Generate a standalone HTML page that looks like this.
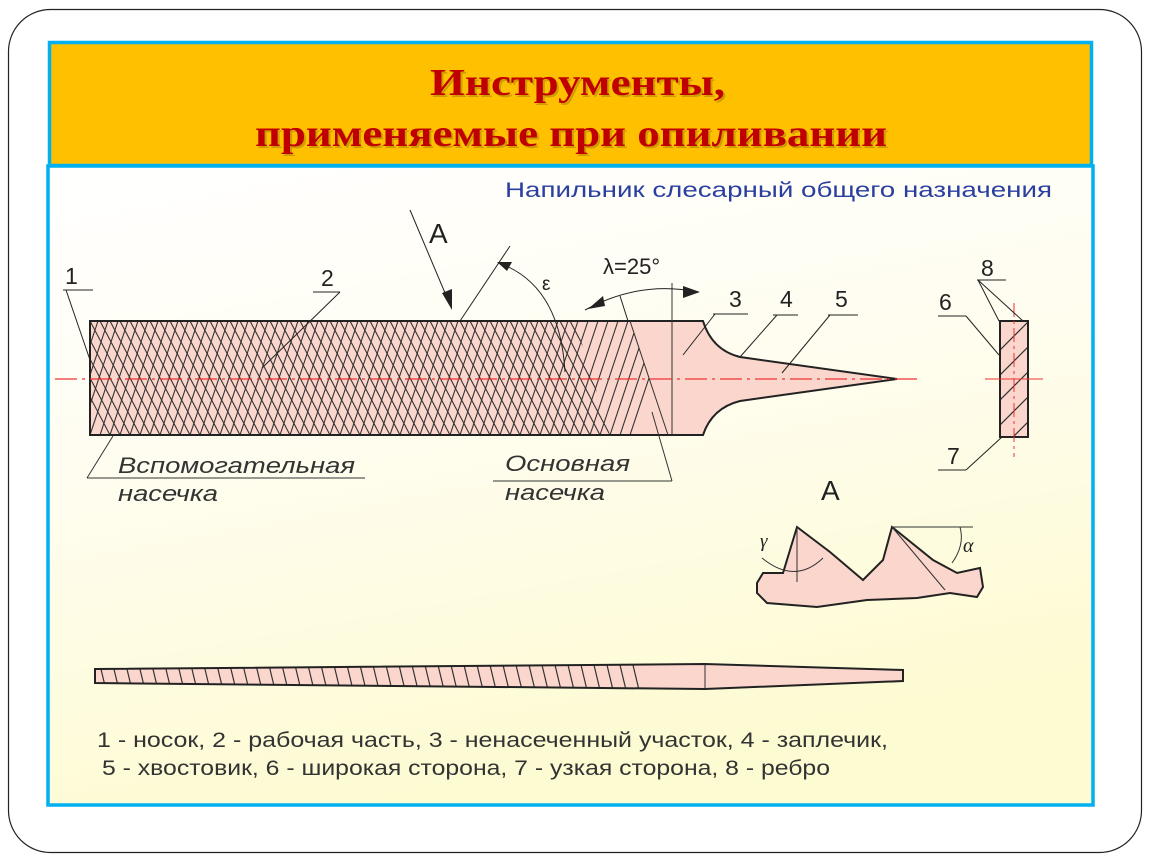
<!DOCTYPE html>
<html><head><meta charset="utf-8"><style>
body{margin:0;width:1150px;height:864px;background:#fff;overflow:hidden;}
svg{position:absolute;left:0;top:0;}
</style></head><body>
<svg width="1150" height="864" viewBox="0 0 1150 864" font-family="Liberation Sans, sans-serif">
<defs>
<linearGradient id="bg" x1="0" y1="0" x2="0.3" y2="1">
<stop offset="0" stop-color="#ffffff"/><stop offset="0.45" stop-color="#fffdf0"/><stop offset="1" stop-color="#fdfbd2"/>
</linearGradient>
<clipPath id="cr"><polygon points="90,321 630,321 668,435 90,435"/></clipPath>
<clipPath id="cx"><polygon points="90,321 575,321 610,435 90,435"/></clipPath>
<clipPath id="cs"><rect x="1000" y="321" width="28" height="116"/></clipPath>
<clipPath id="cb"><polygon points="95,669 705,664 705,689 95,683"/></clipPath>
</defs>
<rect x="8.5" y="9.5" width="1133" height="843" rx="42" fill="#fff" stroke="#222" stroke-width="1.2"/>
<rect x="48" y="166" width="1045" height="639" fill="url(#bg)" stroke="#00b0f0" stroke-width="3.5"/>
<rect x="49.5" y="42.5" width="1042" height="123" fill="#ffc000" stroke="#00b0f0" stroke-width="3.5"/>
<g font-family="Liberation Serif, serif" font-weight="bold" font-size="38">
<text x="432" y="97" fill="#8a6a00" opacity=".4" textLength="295" lengthAdjust="spacingAndGlyphs">Инструменты,</text>
<text x="430" y="95" fill="#c00000" textLength="295" lengthAdjust="spacingAndGlyphs">Инструменты,</text>
<text x="257" y="148" fill="#8a6a00" opacity=".4" textLength="632" lengthAdjust="spacingAndGlyphs">применяемые при опиливании</text>
<text x="255" y="146" fill="#c00000" textLength="632" lengthAdjust="spacingAndGlyphs">применяемые при опиливании</text>
</g>
<text x="505" y="197" font-size="21" fill="#2a3fa0" textLength="547" lengthAdjust="spacingAndGlyphs">Напильник слесарный общего назначения</text>

<!-- main file -->
<path d="M90,321 H703 Q712,350 740,357 L897,379 L740,401 Q712,408 703,435 H90 Z" fill="#fbd6cc"/>
<g clip-path="url(#cr)" stroke="#333" stroke-width="1.1">
<path d="M60,435 l38,-114 M70,435 l38,-114 M80,435 l38,-114 M90,435 l38,-114 M100,435 l38,-114 M110,435 l38,-114 M120,435 l38,-114 M130,435 l38,-114 M140,435 l38,-114 M150,435 l38,-114 M160,435 l38,-114 M170,435 l38,-114 M180,435 l38,-114 M190,435 l38,-114 M200,435 l38,-114 M210,435 l38,-114 M220,435 l38,-114 M230,435 l38,-114 M240,435 l38,-114 M250,435 l38,-114 M260,435 l38,-114 M270,435 l38,-114 M280,435 l38,-114 M290,435 l38,-114 M300,435 l38,-114 M310,435 l38,-114 M320,435 l38,-114 M330,435 l38,-114 M340,435 l38,-114 M350,435 l38,-114 M360,435 l38,-114 M370,435 l38,-114 M380,435 l38,-114 M390,435 l38,-114 M400,435 l38,-114 M410,435 l38,-114 M420,435 l38,-114 M430,435 l38,-114 M440,435 l38,-114 M450,435 l38,-114 M460,435 l38,-114 M470,435 l38,-114 M480,435 l38,-114 M490,435 l38,-114 M500,435 l38,-114 M510,435 l38,-114 M520,435 l38,-114 M530,435 l38,-114 M540,435 l38,-114 M550,435 l38,-114 M560,435 l38,-114 M570,435 l38,-114 M580,435 l38,-114 M590,435 l38,-114 M600,435 l38,-114 M610,435 l38,-114 M620,435 l38,-114 M630,435 l38,-114"/>
</g>
<g clip-path="url(#cx)" stroke="#333" stroke-width="1.1">
<path d="M50,321 l60,114 M60,321 l60,114 M70,321 l60,114 M80,321 l60,114 M90,321 l60,114 M100,321 l60,114 M110,321 l60,114 M120,321 l60,114 M130,321 l60,114 M140,321 l60,114 M150,321 l60,114 M160,321 l60,114 M170,321 l60,114 M180,321 l60,114 M190,321 l60,114 M200,321 l60,114 M210,321 l60,114 M220,321 l60,114 M230,321 l60,114 M240,321 l60,114 M250,321 l60,114 M260,321 l60,114 M270,321 l60,114 M280,321 l60,114 M290,321 l60,114 M300,321 l60,114 M310,321 l60,114 M320,321 l60,114 M330,321 l60,114 M340,321 l60,114 M350,321 l60,114 M360,321 l60,114 M370,321 l60,114 M380,321 l60,114 M390,321 l60,114 M400,321 l60,114 M410,321 l60,114 M420,321 l60,114 M430,321 l60,114 M440,321 l60,114 M450,321 l60,114 M460,321 l60,114 M470,321 l60,114 M480,321 l60,114 M490,321 l60,114 M500,321 l60,114 M510,321 l60,114 M520,321 l60,114 M530,321 l60,114 M540,321 l60,114 M550,321 l60,114 M560,321 l60,114 M570,321 l60,114"/>
</g>
<path d="M90,321 H703 Q712,350 740,357 L897,379 L740,401 Q712,408 703,435 H90 Z" fill="none" stroke="#222" stroke-width="2"/>
<line x1="630" y1="321" x2="668" y2="435" stroke="#333"/>
<line x1="672" y1="283" x2="672" y2="435" stroke="#333"/>
<line x1="55" y1="379" x2="920" y2="379" stroke="#e33" stroke-width="1.2" stroke-dasharray="22,5,3,5"/>

<g font-size="23" fill="#222" stroke="#222" stroke-width="1">
<text x="65" y="284" stroke="none">1</text>
<line x1="63" y1="290" x2="93" y2="290"/><line x1="66" y1="290" x2="90" y2="360"/>
<text x="321" y="286" stroke="none">2</text>
<line x1="313" y1="292" x2="340" y2="292"/><line x1="340" y1="292" x2="262" y2="368"/>
<text x="429" y="243" stroke="none" font-size="28">A</text>
<line x1="410" y1="210" x2="448" y2="300"/>
<polygon points="452,310 442,293 452,289" stroke="none"/>
<line x1="460" y1="321" x2="510" y2="246"/>
<path d="M499,263 Q560,285 565,372" fill="none"/>
<polygon points="497,262 512,262 507,271" stroke="none"/>
<text x="542" y="290" stroke="none" font-size="19">ε</text>
<text x="603" y="274" stroke="none" font-size="22">λ=25°</text>
<path d="M585,310 Q640,280 698,292" fill="none"/>
<polygon points="588,309 603,296 605,306" stroke="none"/>
<polygon points="700,292 683,286 683,298" stroke="none"/>
<line x1="628" y1="321" x2="620" y2="296"/>
<text x="729" y="307" stroke="none">3</text>
<line x1="713" y1="314" x2="748" y2="314"/><line x1="715" y1="314" x2="683" y2="355"/>
<text x="780" y="307" stroke="none">4</text>
<line x1="773" y1="315" x2="798" y2="315"/><line x1="777" y1="315" x2="740" y2="357"/>
<text x="835" y="307" stroke="none">5</text>
<line x1="828" y1="315" x2="858" y2="315"/><line x1="830" y1="315" x2="782" y2="373"/>
</g>
<g font-size="22" font-style="italic" fill="#333" stroke="#333">
<text x="118" y="473" stroke="none" textLength="237" lengthAdjust="spacingAndGlyphs">Вспомогательная</text>
<text x="118" y="501" stroke="none" textLength="100" lengthAdjust="spacingAndGlyphs">насечка</text>
<line x1="87" y1="478" x2="365" y2="478"/><line x1="87" y1="478" x2="113" y2="436"/>
<text x="505" y="471" stroke="none" textLength="125" lengthAdjust="spacingAndGlyphs">Основная</text>
<text x="505" y="500" stroke="none" textLength="100" lengthAdjust="spacingAndGlyphs">насечка</text>
<line x1="493" y1="481" x2="672" y2="481"/><line x1="672" y1="481" x2="652" y2="412"/>
</g>

<!-- cross-section -->
<rect x="1000" y="321" width="28" height="116" fill="#fbd6cc"/>
<g clip-path="url(#cs)" stroke="#333" stroke-width="1.2">
<path d="M990,360 l50,-50 M990,385 l50,-50 M990,410 l50,-50 M990,435 l50,-50 M990,460 l50,-50"/>
</g>
<rect x="1000" y="321" width="28" height="116" fill="none" stroke="#222" stroke-width="2"/>
<line x1="1014" y1="303" x2="1014" y2="457" stroke="#e33" stroke-dasharray="14,4,3,4"/>
<line x1="985" y1="379" x2="1043" y2="379" stroke="#e33"/>
<g font-size="23" fill="#222" stroke="#222">
<text x="981" y="276" stroke="none">8</text>
<line x1="977" y1="280" x2="1006" y2="280"/>
<line x1="978" y1="280" x2="999" y2="321"/><line x1="978" y1="280" x2="1023" y2="321"/>
<text x="939" y="310" stroke="none">6</text>
<line x1="938" y1="316" x2="966" y2="316"/><line x1="966" y1="316" x2="999" y2="355"/>
<text x="947" y="464" stroke="none">7</text>
<line x1="938" y1="470" x2="966" y2="470"/><line x1="966" y1="470" x2="1002" y2="437"/>
<text x="821" y="500" stroke="none" font-size="28">A</text>
</g>
<!-- teeth -->
<path d="M757,583 L763,573 L783,573 L797,527 L830,552 L863,580 L883,560 L892,527 L933,560 L957,573 L980,568 L983,587 L977,597 L950,593 L917,598 L867,600 L817,607 L767,603 L757,593 Z" fill="#fbd6cc" stroke="#222" stroke-width="2"/>
<g stroke="#333" fill="none">
<line x1="797" y1="527" x2="797" y2="582"/>
<path d="M762,558 Q795,585 823,558"/>
<line x1="892" y1="527" x2="973" y2="527"/>
<line x1="892" y1="527" x2="945" y2="590"/>
<path d="M960,527 Q965,545 952,563"/>
</g>
<text x="760" y="547" font-size="19" font-family="Liberation Serif, serif" font-style="italic" fill="#222">γ</text>
<text x="963" y="552" font-size="20" font-family="Liberation Serif, serif" font-style="italic" fill="#222">α</text>

<!-- bottom file -->
<path d="M95,669 L705,664 L903,670 L903,681 L705,689 L95,683 Z" fill="#fbd6cc"/>
<g clip-path="url(#cb)" stroke="#333" stroke-width="1.2">
<path d="M100,665 l6,25 M113,665 l6,25 M126,665 l6,25 M139,665 l6,25 M152,665 l6,25 M165,665 l6,25 M178,665 l6,25 M191,665 l6,25 M204,665 l6,25 M217,665 l6,25 M230,665 l6,25 M243,665 l6,25 M256,665 l6,25 M269,665 l6,25 M282,665 l6,25 M295,665 l6,25 M308,665 l6,25 M321,665 l6,25 M334,665 l6,25 M347,665 l6,25 M360,665 l6,25 M373,665 l6,25 M386,665 l6,25 M399,665 l6,25 M412,665 l6,25 M425,665 l6,25 M438,665 l6,25 M451,665 l6,25 M464,665 l6,25 M477,665 l6,25 M490,665 l6,25 M503,665 l6,25 M516,665 l6,25 M529,665 l6,25 M542,665 l6,25 M555,665 l6,25 M568,665 l6,25 M581,665 l6,25 M594,665 l6,25 M607,665 l6,25 M620,665 l6,25 M633,665 l6,25"/>
</g>
<path d="M95,669 L705,664 L903,670 L903,681 L705,689 L95,683 Z" fill="none" stroke="#222" stroke-width="2"/>
<line x1="705" y1="664" x2="705" y2="689" stroke="#333"/>

<g font-size="21" fill="#333">
<text x="97" y="747" textLength="791" lengthAdjust="spacingAndGlyphs">1  - носок, 2 - рабочая часть, 3 - ненасеченный участок, 4 - заплечик,</text>
<text x="102" y="775" textLength="728" lengthAdjust="spacingAndGlyphs">5 - хвостовик, 6 - широкая сторона, 7 - узкая сторона, 8 - ребро</text>
</g>
</svg>
</body></html>
